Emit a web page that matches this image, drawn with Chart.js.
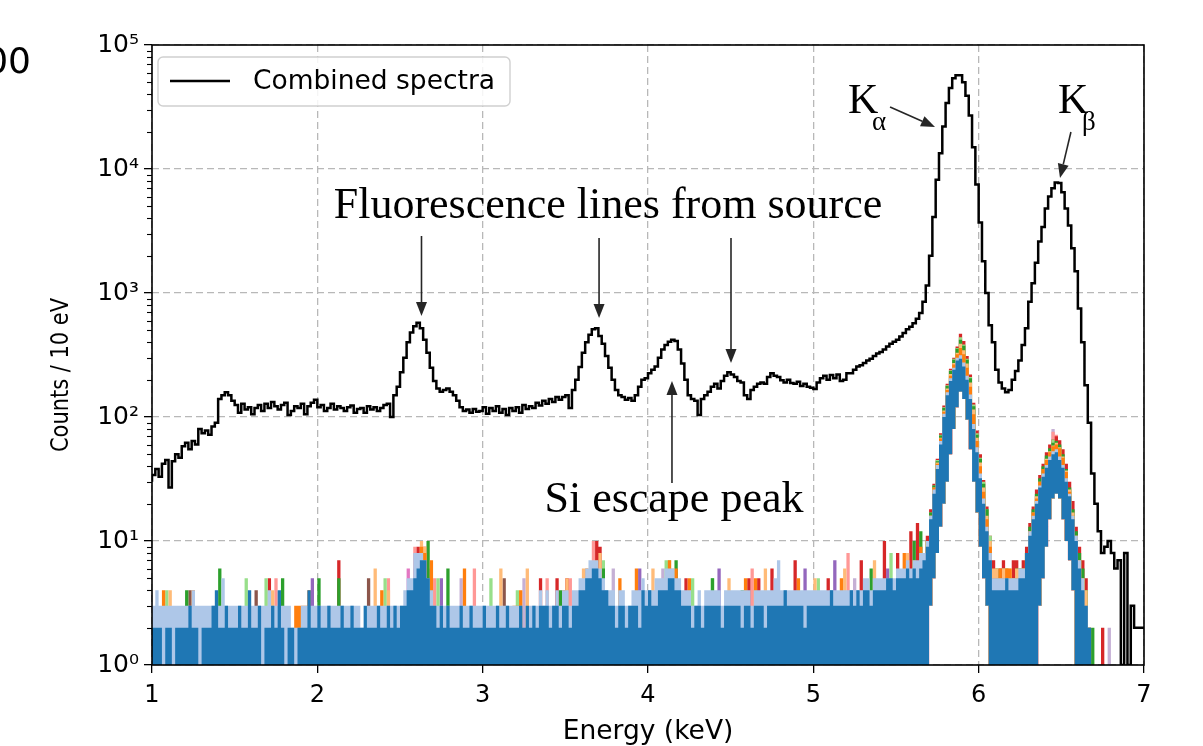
<!DOCTYPE html>
<html><head><meta charset="utf-8">
<script src="https://cdn.jsdelivr.net/npm/chart.js@4.4.1/dist/chart.umd.min.js"></script>
<style>html,body{margin:0;padding:0;background:#fff;}canvas{display:block;}</style>
</head><body>
<canvas id="c" width="1203" height="746"></canvas>
<script>
// ---------- data ----------
const BIN_START = 1.0;      // keV, left edge of first bin
const BIN_WIDTH = 0.02;     // keV
const xTickValues = [1, 2, 3, 4, 5, 6, 7];
const xTickLabels = ['1', '2', '3', '4', '5', '6', '7'];
const yTickValues = [1, 10, 100, 1000, 10000, 100000];
const yTickLabels = ['10⁰', '10¹', '10²', '10³', '10⁴', '10⁵'];
const seriesLabel = 'Combined spectra';
const xTitle = 'Energy (keV)';
const yTitle = 'Counts / 10 eV';

const combinedSpectrum = [
30,34,38,33,42, 45,27,44,50,47, 58,62,55,64,60, 80,74,78,72,84, 90,140,150,158,150,
135,125,108,128,115, 120,105,118,125,112, 128,118,132,122,115, 125,130,104,112,122, 118,128,105,122,130,
138,120,125,112,118, 128,115,122,118,112, 120,124,108,116,118, 108,122,115,120,112, 118,125,128,100,150,
175,230,300,400,480, 540,575,520,420,330, 250,195,170,160,165, 170,160,150,135,120, 112,115,108,116,110,
112,120,106,118,112, 122,108,116,104,118, 112,120,108,125,116, 122,118,130,124,135, 128,140,132,145,138,
145,150,118,165,200, 253,330,400,460,510, 520,450,390,310,250, 200,165,150,145,138, 142,135,150,175,200,
205,225,240,255,300, 350,380,405,420,410, 350,270,200,150,140, 135,104,140,150,160, 175,185,170,195,215,
230,220,210,195,190, 150,140,165,175,185, 190,185,210,225,215, 210,198,190,200,188, 185,192,178,185,175,
172,168,190,205,215, 200,218,205,220,195, 200,225,225,240,255, 262,272,285,295,310, 325,335,350,370,390,
405,420,445,475,510, 535,570,620,690,850, 1150,2000,4100,8200,13400, 22000,34000,45000,54000,57000, 57000,50000,39000,27000,15000,
7500,3700,1800,1000,550, 400,240,190,170,158, 165,200,235,285,380, 520,850,1200,1750,2600, 3400,4800,6000,7000,7800,
7700,6500,4800,3500,2300, 1500,750,400,180,90, 35,20,12,8,9, 10,8,6,7,0, 8,0,3,2,2
];

const pixelBlue = [
2,2,2,2,1, 2,2,1,2,2, 2,2,3,2,2, 1,2,2,2,3, 4,2,2,3,2,
2,2,3,2,2, 4,2,2,3,1, 2,2,3,2,4, 2,1,2,2,1, 2,2,2,4,2,
2,3,2,2,3, 2,2,2,3,2, 2,3,2,2,2, 3,2,2,2,3, 2,2,3,2,3,
2,3,3,4,4, 5,6,7,7,5, 3,3,2,3,2, 3,2,2,2,3, 2,2,3,2,2,
2,3,2,2,2, 3,2,2,3,2, 2,2,3,2,3, 2,3,2,3,3, 3,2,3,3,2,
3,3,2,3,3, 4,4,5,5,6, 6,5,4,4,3, 3,2,3,3,2, 3,3,3,2,4,
3,4,3,3,4, 4,4,5,5,4, 4,3,3,3,2, 3,3,2,3,3, 3,3,3,2,3,
3,3,3,3,2, 3,3,2,3,3, 3,2,3,3,3, 3,3,4,3,3, 3,3,3,2,3,
3,3,3,3,3, 3,4,3,3,3, 3,3,4,3,4, 3,4,4,3,4, 4,4,4,5,5,
4,5,5,5,6, 5,6,5,6,7, 9,15,24,38,60, 100,150,195,240,285, 295,255,200,140,80,
52,32,20,12,7, 4,4,4,4,5, 4,4,4,5,5, 8,11,15,20,27, 33,39,45,50,52,
45,39,30,23,15, 10,6,4,3,2, 0,0,0,0,0, 0,0,0,0,0, 0,0,0,0,0
];

const pixelLightBlue = [
3,3,4,3,3, 3,3,3,3,3, 3,3,3,4,3, 3,3,3,3,3, 3,3,5,3,3,
3,3,3,3,3, 3,3,3,3,3, 3,4,3,3,3, 3,3,3,2,2, 2,3,3,3,3,
3,3,3,3,3, 3,3,3,3,3, 3,3,3,3,2, 2,3,3,3,3, 3,3,3,3,3,
3,3,4,5,5, 8,8,8,7,5, 4,3,3,3,3, 3,3,3,3,3, 3,3,3,3,3,
3,3,3,3,3, 3,3,3,3,3, 3,3,3,2,2, 3,3,3,4,3, 4,3,3,4,3,
4,4,3,4,4, 5,5,6,7,7, 7,6,5,4,4, 4,3,4,4,3, 3,4,4,4,5,
4,4,4,5,5, 5,6,6,6,5, 5,4,4,4,3, 3,4,3,4,4, 4,4,4,3,4,
4,4,4,4,4, 4,4,3,4,4, 4,4,4,4,5, 7,4,4,4,4, 4,4,4,4,4,
4,4,4,4,4, 4,4,4,4,4, 4,4,4,4,4, 4,5,5,4,5, 5,5,5,5,5,
5,6,6,6,7, 6,7,7,8,8, 10,16,26,41,64, 106,158,205,250,300, 315,275,215,152,88,
57,35,22,13,8, 5,5,5,5,5, 5,5,5,6,6, 8,12,16,21,28, 35,41,48,53,55,
48,41,32,24,16, 11,7,5,3,2, 0,0,0,0,0, 0,0,0,0,0, 0,0,0,0,0
];

// single-pixel envelopes over the K peaks (from 5.70 keV, one value per bin)
const peakStart = 5.70;
const peakRed = [11,18,29,46,74, 124,185,245,300,370, 470,410,310,220,130, 78,50,31,19,11, 7,5,6,7,5, 4,7,7,5,7, 9,14,19,26,34, 42,52,60,66,70, 65,55,42,30,21, 13,9,7,5,2];
const peakGreen = [10,17,28,44,71, 118,178,235,290,355, 420,375,290,205,122, 72,46,29,18,10, 5,6,5,5,6, 5,5,6,6,5, 8,13,18,24,32, 40,49,56,62,64, 60,50,38,27,18, 12,8,6,4,2];
const peakLightGreen = [10,17,28,45,72, 120,180,238,295,360, 440,385,295,210,126, 74,47,30,18,11, 5,5,5,6,5, 5,5,5,6,6, 8,12,17,23,31, 39,47,55,66,62, 58,48,36,26,17, 11,7,5,4,0];
const peakOrange = [10,16,27,42,67, 110,165,215,265,320, 360,320,250,175,105, 64,40,25,15,9, 5,5,6,5,6, 6,5,5,5,6, 8,12,17,22,30, 38,45,52,58,60, 56,47,36,25,16, 11,7,5,3,2];
const peakLightOrange = [10,16,27,43,68, 113,170,222,272,330, 390,345,270,190,115, 68,43,27,16,10, 6,6,5,6,6, 6,5,6,6,5, 8,12,17,23,30, 38,46,53,59,62, 57,48,37,26,17, 11,7,5,4,0];

// isolated single-bin counts [energy keV, counts]
const spikesOrange = [[1.08,4],[1.26,4],[1.88,3],[1.90,3],[1.92,3],[1.94,3],[1.96,4],[2.40,4],[2.64,9],[2.66,8],[2.70,7],[2.90,6],[3.20,3],[3.22,3],[3.24,4],[3.50,4],[3.64,6],[3.70,7],[3.84,5],[3.94,6],[4.14,7],[4.18,6],[4.26,5],[4.60,5],[4.66,5],[4.92,5],[5.18,5],[5.56,8],[5.62,7],[5.66,9]];
const spikesLightOrange = [[1.12,4],[1.74,4],[2.36,6],[2.44,4],[2.62,8],[2.64,10],[2.66,9],[3.12,6],[3.28,6],[3.52,5],[3.62,6],[3.72,8],[4.04,6],[4.16,6],[4.50,5],[4.72,6],[5.02,5],[5.20,6],[5.38,7],[5.58,8]];
const spikesGreen = [[1.22,4],[1.42,6],[1.80,5],[2.02,5],[2.14,5],[2.68,10],[2.80,6],[3.48,4],[3.74,6],[4.18,7],[4.40,5],[4.58,4],[5.36,6],[5.62,10],[5.66,12],[6.70,2]];
const spikesLightGreen = [[1.10,4],[1.58,5],[1.70,5],[2.42,5],[2.74,5],[3.06,5],[3.22,4],[3.74,7],[4.12,7],[4.14,7],[4.28,5],[4.40,5],[5.04,5],[5.48,8],[5.58,7]];
const spikesRed = [[1.72,5],[2.14,7],[2.62,9],[2.66,9],[3.36,5],[3.46,5],[3.52,5],[3.70,10],[3.72,9],[4.24,5],[4.62,5],[4.68,5],[4.76,6],[4.90,7],[5.10,5],[5.30,7],[5.44,10],[5.52,8],[5.60,12],[5.64,14],[6.76,2]];
const spikesPink = [[1.76,5],[2.44,5],[2.60,9],[2.72,5],[2.96,6],[3.40,5],[3.54,5],[3.68,10],[4.64,6],[5.22,8],[6.46,76],[6.48,72]];
const spikesPurple = [[1.98,5],[2.60,6],[2.76,5],[3.96,6],[4.44,6],[4.96,6],[5.14,7],[5.46,6]];
const spikesLightPurple = [[2.68,6],[2.88,5],[3.26,5],[3.80,6],[4.10,6],[5.26,5],[6.46,80],[6.80,2]];
const spikesBrown = [[1.24,4],[1.64,4],[2.32,5],[3.14,5]];
const spikesMagenta = [[2.56,6],[5.68,7]];

// lower edge of the pixel band inside the K peaks (no pixel bin reaches below it)
const floorKaStart = 5.72;
const floorKa = [3,5,8,13,20,30,50,80,120,160,140,95,55,30,17,9,5,3];
const floorKbStart = 6.38;
const floorKb = [3,5,9,15,22,24,22,15,10,7,4];

// annotations in data coordinates [keV, counts]
const textNotes = [
  {text: 'Fluorescence lines from source', at: [3.758, 4026], size: 44},
  {text: 'Si escape peak', at: [4.157, 17.1], size: 44}
];
const kNotes = [
  {main: 'K', sub: 'α', at: [5.210, 28290], subAt: [5.355, 20630]},
  {main: 'K', sub: 'β', at: [6.480, 28290], subAt: [6.625, 20630]}
];
const arrowNotes = [
  {from: [2.630, 2882], to: [2.630, 652]},
  {from: [3.704, 2777], to: [3.704, 628]},
  {from: [4.502, 2777], to: [4.502, 272]},
  {from: [4.145, 29.4], to: [4.145, 195]},
  {from: [5.464, 31623], to: [5.736, 21820]},
  {from: [6.558, 19880], to: [6.492, 8461]}
];

// ---------- build ----------
const N = combinedSpectrum.length;
const Y_MIN = yTickValues[0];
const edges = Array.from({length: N + 1}, (_, i) => +(BIN_START + i * BIN_WIDTH).toFixed(2));
const binIndex = e => Math.round((e - BIN_START) / BIN_WIDTH);
function toStep(vals) {
  const pts = vals.map((v, i) => ({x: edges[i], y: v > 0 ? v : Y_MIN}));
  pts.push({x: edges[N], y: pts[N - 1].y});
  return pts;
}
function fromParts(envelope, spikes) {
  const arr = new Array(N).fill(0);
  if (envelope) { const s = binIndex(peakStart); envelope.forEach((v, k) => arr[s + k] = v); }
  (spikes || []).forEach(([e, v]) => arr[binIndex(e)] = v);
  return arr;
}
const floorArr = new Array(N).fill(0);
floorKa.forEach((v, k) => floorArr[binIndex(floorKaStart) + k] = v);
floorKb.forEach((v, k) => floorArr[binIndex(floorKbStart) + k] = v);

const pixelLayers = [
  ['#1f77b4', pixelBlue],
  ['#aec7e8', pixelLightBlue],
  ['#ff7f0e', fromParts(peakOrange, spikesOrange)],
  ['#ffbb78', fromParts(peakLightOrange, spikesLightOrange)],
  ['#2ca02c', fromParts(peakGreen, spikesGreen)],
  ['#98df8a', fromParts(peakLightGreen, spikesLightGreen)],
  ['#d62728', fromParts(peakRed, spikesRed)],
  ['#ff9896', fromParts(null, spikesPink)],
  ['#9467bd', fromParts(null, spikesPurple)],
  ['#c5b0d5', fromParts(null, spikesLightPurple)],
  ['#8c564b', fromParts(null, spikesBrown)],
  ['#e377c2', fromParts(null, spikesMagenta)]
];
const FLOOR_INDEX = 1 + pixelLayers.length;

const datasets = [{
  label: seriesLabel, data: toStep(combinedSpectrum), stepped: 'after',
  borderColor: '#000', borderWidth: 2.5, pointRadius: 0, fill: false
}];
pixelLayers.forEach(([col, vals]) => datasets.push({
  label: '', data: toStep(vals), stepped: 'after', borderWidth: 0, borderColor: col,
  backgroundColor: col, pointRadius: 0,
  fill: {target: FLOOR_INDEX, above: col, below: 'rgba(0,0,0,0)'}
}));
datasets.push({label: '', data: toStep(floorArr), stepped: 'after', borderWidth: 0,
  borderColor: 'rgba(0,0,0,0)', pointRadius: 0, fill: false});

const isDecade = v => Math.abs(Math.log10(v) - Math.round(Math.log10(v))) < 1e-9;

const decor = {
  id: 'decor',
  afterDatasetsDraw(chart) {
    const {ctx, chartArea: a, scales: {x, y}} = chart;
    const P = ([e, v]) => [x.getPixelForValue(e), y.getPixelForValue(v)];
    ctx.save();
    // arrows
    ctx.strokeStyle = '#262626'; ctx.fillStyle = '#262626'; ctx.lineWidth = 1.6;
    arrowNotes.forEach(n => {
      const [x0, y0] = P(n.from), [x1, y1] = P(n.to);
      const ang = Math.atan2(y1 - y0, x1 - x0), L = 14, W = 5.5;
      const bx = x1 - L * Math.cos(ang), by = y1 - L * Math.sin(ang);
      ctx.beginPath(); ctx.moveTo(x0, y0); ctx.lineTo(bx, by); ctx.stroke();
      ctx.beginPath(); ctx.moveTo(x1, y1);
      ctx.lineTo(bx + W * Math.sin(ang), by - W * Math.cos(ang));
      ctx.lineTo(bx - W * Math.sin(ang), by + W * Math.cos(ang));
      ctx.closePath(); ctx.fill();
    });
    // texts
    ctx.fillStyle = '#000'; ctx.textBaseline = 'alphabetic';
    textNotes.forEach(n => {
      const [px, py] = P(n.at);
      ctx.font = n.size + 'px "Liberation Serif", "DejaVu Serif", serif';
      ctx.textAlign = 'center'; ctx.fillText(n.text, px, py);
    });
    kNotes.forEach(n => {
      const [px, py] = P(n.at), [sx, sy] = P(n.subAt);
      ctx.textAlign = 'left';
      ctx.font = '42px "Liberation Serif", "DejaVu Serif", serif'; ctx.fillText(n.main, px, py);
      ctx.font = '27px "Liberation Serif", "DejaVu Serif", serif'; ctx.fillText(n.sub, sx, sy);
    });
    // frame
    ctx.strokeStyle = '#000'; ctx.lineWidth = 1.6;
    ctx.strokeRect(a.left, a.top, a.right - a.left, a.bottom - a.top);
    // minor log ticks
    ctx.lineWidth = 1.1;
    for (let d = 0; d < yTickValues.length - 1; d++) {
      for (let k = 2; k <= 9; k++) {
        const py = Math.round(y.getPixelForValue(k * yTickValues[d])) + 0.5;
        ctx.beginPath(); ctx.moveTo(a.left - 5, py); ctx.lineTo(a.left, py); ctx.stroke();
      }
    }
    // legend
    const lx = a.left + 6, ly = a.top + 12, lw = 352, lh = 49;
    ctx.beginPath(); ctx.roundRect(lx, ly, lw, lh, 5);
    ctx.fillStyle = 'rgba(255,255,255,0.85)'; ctx.fill();
    ctx.strokeStyle = '#d0d0d0'; ctx.lineWidth = 1.4; ctx.stroke();
    ctx.strokeStyle = '#000'; ctx.lineWidth = 2.5;
    ctx.beginPath(); ctx.moveTo(lx + 12, ly + 24); ctx.lineTo(lx + 72, ly + 24); ctx.stroke();
    ctx.fillStyle = '#000'; ctx.font = '26.5px "DejaVu Sans"'; ctx.textAlign = 'left'; ctx.textBaseline = 'middle';
    ctx.fillText(chart.data.datasets[0].label, lx + 95, ly + 25);
    // y axis title (glyph size as in the reference, length 154 px)
    ctx.save();
    ctx.translate(62, (a.top + a.bottom) / 2 + 20); ctx.rotate(-Math.PI / 2);
    ctx.font = '24px "DejaVu Sans"'; ctx.textAlign = 'center'; ctx.textBaseline = 'middle';
    const tw = ctx.measureText(yTitle).width;
    ctx.scale(154 / tw, 1);
    ctx.fillText(yTitle, 0, 0);
    ctx.restore();
    ctx.restore();
  },
  afterDraw(chart) {
    const ctx = chart.ctx;
    ctx.save(); ctx.fillStyle = '#000'; ctx.font = '36px "DejaVu Sans"';
    ctx.textAlign = 'right'; ctx.textBaseline = 'alphabetic'; ctx.fillText('00', 31, 73);
    ctx.restore();
  }
};

new Chart(document.getElementById('c'), {
  type: 'line',
  data: {datasets},
  options: {
    responsive: false, animation: false, devicePixelRatio: 1,
    layout: {padding: {top: 45, right: 59, left: 0, bottom: 0}},
    plugins: {legend: {display: false}, tooltip: {enabled: false}},
    scales: {
      x: {
        type: 'linear', min: 1, max: 7,
        afterBuildTicks: s => { s.ticks = xTickValues.map(v => ({value: v})); },
        afterFit: s => { s.height = 81; },
        ticks: {autoSkip: false, maxRotation: 0, padding: 8, color: '#000',
          font: {family: 'DejaVu Sans', size: 24},
          callback: v => xTickLabels[xTickValues.indexOf(v)] ?? ''},
        grid: {color: '#b8b8b8', lineWidth: 1.3, tickColor: '#000', tickLength: 8, tickWidth: 1.3},
        border: {display: false, dash: [7, 4]},
        title: {display: true, text: xTitle, color: '#000',
          font: {family: 'DejaVu Sans', size: 26.5}, padding: {top: 0, bottom: -2}}
      },
      y: {
        type: 'logarithmic', min: 1, max: 100000,
        afterBuildTicks: s => { s.ticks = yTickValues.map(v => ({value: v})); },
        afterFit: s => { s.width = 152; },
        ticks: {autoSkip: false, padding: 5, color: '#000',
          font: {family: 'DejaVu Sans', size: 25},
          callback: v => isDecade(v) ? yTickLabels[yTickValues.indexOf(v)] : ''},
        grid: {color: '#b8b8b8', lineWidth: 1.3, tickColor: '#000', tickLength: 8, tickWidth: 1.3},
        border: {display: false, dash: [7, 4]},
        title: {display: false}
      }
    }
  },
  plugins: [decor]
});
</script>
</body></html>
